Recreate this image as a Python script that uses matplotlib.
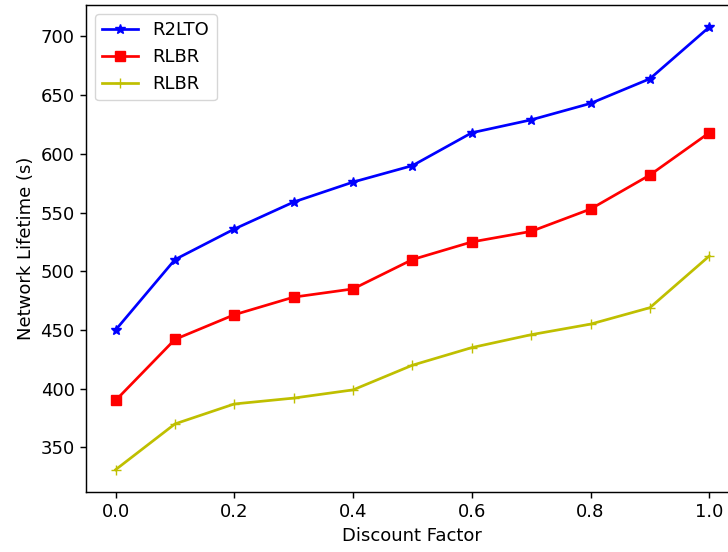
import matplotlib
matplotlib.use("Agg")
import matplotlib.pyplot as plt

discount = [0.0, 0.1, 0.2, 0.3, 0.4, 0.5, 0.6, 0.7, 0.8, 0.9, 1.0]
r2lto = [450, 510, 536, 559, 576, 590, 618, 629, 643, 664, 708]
rlbr = [390, 442, 463, 478, 485, 510, 525, 534, 553, 582, 618]
rlbr2 = [331, 370, 387, 392, 399, 420, 435, 446, 455, 469, 513]

# the reference looks like a default figure scaled up by ~1.3
s = 1.3
plt.rcParams.update({
    'font.size': 10 * s,
    'lines.linewidth': 1.5 * s,
    'lines.markersize': 6 * s,
    'axes.linewidth': 0.8 * s,
    'xtick.major.size': 3.5 * s,
    'ytick.major.size': 3.5 * s,
    'xtick.major.width': 0.8 * s,
    'ytick.major.width': 0.8 * s,
})

fig = plt.figure(figsize=(7.28, 5.52), dpi=100)
# the original is cropped on the right, so the axes run past the figure edge
ax = fig.add_axes([0.118, 0.109, 0.897, 0.882])

ax.plot(discount, r2lto, 'b*-', label='R2LTO')
ax.plot(discount, rlbr, 'rs-', label='RLBR')
ax.plot(discount, rlbr2, 'y+-', label='RLBR')

ax.set_xlabel('Discount Factor')
ax.set_ylabel('Network Lifetime (s)')
ax.legend(loc='upper left')

fig.savefig('out.png', dpi=100)
